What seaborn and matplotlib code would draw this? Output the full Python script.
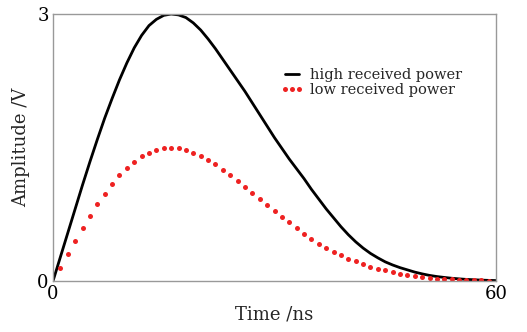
import matplotlib
matplotlib.use("Agg")
import matplotlib.pyplot as plt
import seaborn as sns

sns.set_theme(style="white")
plt.rcParams['font.family'] = ['DejaVu Serif']

# High received power (solid black curve), one reading per ns
high_time = list(range(0, 61))
high_amp = [0.0, 0.27, 0.54, 0.81, 1.08, 1.34, 1.59, 1.83, 2.05, 2.26,
            2.45, 2.62, 2.76, 2.87, 2.94, 2.985, 3.0, 2.99, 2.96, 2.90,
            2.82, 2.72, 2.61, 2.49, 2.37, 2.25, 2.13, 2.00, 1.87, 1.74,
            1.61, 1.49, 1.37, 1.26, 1.15, 1.03, 0.92, 0.81, 0.71, 0.61,
            0.52, 0.44, 0.37, 0.31, 0.26, 0.215, 0.18, 0.15, 0.125, 0.10,
            0.08, 0.063, 0.05, 0.04, 0.031, 0.024, 0.018, 0.014, 0.010, 0.007,
            0.005]

# Low received power (red dots, one per ns)
low_time = list(range(1, 60))
low_amp = [0.15, 0.30, 0.45, 0.59, 0.73, 0.86, 0.98, 1.09, 1.19, 1.27,
           1.34, 1.40, 1.44, 1.47, 1.49, 1.50, 1.49, 1.47, 1.44, 1.40,
           1.36, 1.31, 1.25, 1.19, 1.12, 1.06, 0.99, 0.92, 0.85, 0.79,
           0.72, 0.66, 0.59, 0.53, 0.47, 0.42, 0.37, 0.33, 0.29, 0.25,
           0.22, 0.19, 0.16, 0.14, 0.12, 0.10, 0.08, 0.065, 0.055, 0.045,
           0.035, 0.028, 0.022, 0.017, 0.013, 0.010, 0.008, 0.006, 0.005]

x_ticks = [0, 60]
y_ticks = [0, 3]

fig = plt.figure(figsize=(5.27, 3.32), dpi=100)
ax = fig.add_axes([0.1006, 0.1536, 0.8406, 0.8042])

sns.lineplot(x=high_time, y=high_amp, ax=ax, color='black', linewidth=2.0,
             label='high received power')
sns.lineplot(x=low_time, y=low_amp, ax=ax, color='#ee2222', linestyle='',
             marker='o', markersize=3.6, markeredgewidth=0,
             label='low received power')

ax.set_xlim(0, 60)
ax.set_ylim(0, 3)
ax.set_xticks(x_ticks)
ax.set_yticks(y_ticks)
ax.set_xticklabels([str(v) for v in x_ticks], fontsize=13)
ax.set_yticklabels([str(v) for v in y_ticks], fontsize=13)
ax.tick_params(axis='both', length=0, pad=3, colors='black')
ax.set_xlabel('Time /ns', fontsize=13)
ax.set_ylabel('Amplitude /V', fontsize=13)
ax.yaxis.set_label_coords(-0.072, 0.5)
ax.xaxis.set_label_coords(0.5, -0.125)
ax.xaxis.label.set_verticalalignment('center')
ax.yaxis.label.set_verticalalignment('center')

for s in ax.spines.values():
    s.set_color('#999999')
    s.set_linewidth(1.0)

leg = ax.legend(loc='upper left', bbox_to_anchor=(0.5, 0.82), frameon=False,
                fontsize=10.5, numpoints=3, handlelength=1.6, handletextpad=0.4,
                labelspacing=0.1, borderaxespad=0)

fig.savefig('out.png', dpi=100)
